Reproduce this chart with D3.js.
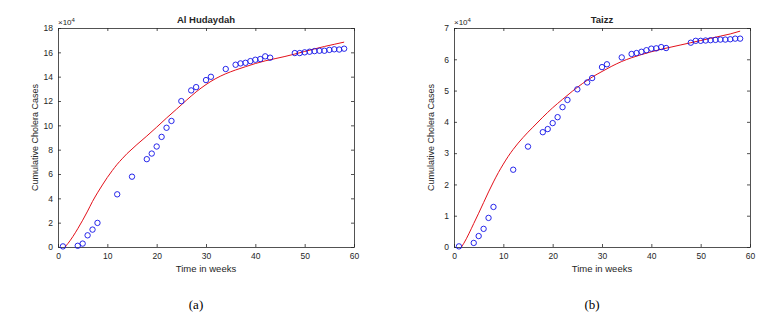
<!DOCTYPE html>
<html lang="en">
<head>
<meta charset="utf-8">
<title>Cumulative cholera cases</title>
<script src="https://d3js.org/d3.v7.min.js"></script>
<style>
  body { margin: 0; background: #fff; }
  svg text { font-family: "Liberation Sans", Arial, Helvetica, sans-serif; fill: #262626; }
  .tag { font-family: "Liberation Serif", "Times New Roman", serif; fill: #000; }
</style>
</head>
<body>
<div id="chart"></div>
<script>

// observed weeks (same for both governorates)
var weeks = [1,4,5,6,7,8,12,15,18,19,20,21,22,23,25,27,28,30,31,34,36,37,38,39,40,41,42,43,48,49,50,51,52,53,54,55,56,57,58];

// observed cumulative cases, in units of 10^4
var hudaydahCases = [0.05,0.1,0.28,0.96,1.43,1.98,4.33,5.78,7.22,7.68,8.26,9.05,9.8,10.36,11.99,12.87,13.14,13.72,13.99,14.63,14.98,15.09,15.14,15.28,15.39,15.45,15.67,15.56,15.94,15.94,16.0,16.05,16.1,16.13,16.13,16.2,16.25,16.23,16.3];
var taizzCases = [0.02,0.13,0.35,0.58,0.93,1.28,2.47,3.21,3.67,3.77,3.96,4.15,4.47,4.7,5.04,5.26,5.4,5.75,5.84,6.06,6.17,6.2,6.24,6.29,6.34,6.35,6.39,6.36,6.53,6.59,6.59,6.6,6.61,6.62,6.63,6.63,6.64,6.66,6.66];

// model fit (red curve)
var hudaydahFitWeeks = [1.4,2,3,4,5,6,7,8,9,10,11,12,13,14,15,16,18,20,22,24,26,28,30,32,34,36,38,40,42,44,46,48,50,52,54,56,58];
var hudaydahFit = [0,0.28,0.85,1.5,2.2,2.95,3.75,4.45,5.1,5.72,6.28,6.8,7.25,7.68,8.05,8.42,9.12,9.85,10.6,11.32,12.05,12.75,13.35,13.85,14.24,14.55,14.82,15.08,15.3,15.48,15.66,15.86,16.07,16.28,16.48,16.66,16.84];
var taizzFitWeeks = [1.5,2,3,4,5,6,7,8,9,10,11,12,13,14,15,16,18,20,22,24,26,28,30,32,34,36,38,40,42,44,46,48,50,52,54,56,58];
var taizzFit = [0,0.12,0.42,0.75,1.08,1.42,1.76,2.08,2.38,2.65,2.9,3.12,3.32,3.5,3.67,3.83,4.15,4.45,4.72,4.98,5.22,5.43,5.61,5.78,5.93,6.05,6.15,6.24,6.32,6.39,6.46,6.53,6.6,6.67,6.74,6.81,6.9];

var xTicks = [0,10,20,30,40,50,60];
var hudaydahTicks = [0,2,4,6,8,10,12,14,16,18];
var taizzTicks = [0,1,2,3,4,5,6,7];

var panels = [
  {title: "Al Hudaydah", tag: "(a)", cases: hudaydahCases, fitW: hudaydahFitWeeks, fit: hudaydahFit, yTicks: hudaydahTicks},
  {title: "Taizz", tag: "(b)", cases: taizzCases, fitW: taizzFitWeeks, fit: taizzFit, yTicks: taizzTicks}
];

var W = 776, H = 312;
var pw = 296, ph = 219, marginTop = 28;
var lefts = [58, 454];

var svg = d3.select("#chart").append("svg")
  .attr("width", W).attr("height", H);

panels.forEach(function(p, i) {
  var g = svg.append("g").attr("transform", "translate(" + lefts[i] + "," + marginTop + ")");

  var x = d3.scaleLinear().domain([0, 60]).range([0, pw]);
  var yMax = p.yTicks[p.yTicks.length - 1];
  var y = d3.scaleLinear().domain([0, yMax]).range([ph, 0]);

  // axes, ticks pointing inward on all four sides
  var bottom = g.append("g").attr("transform", "translate(0," + ph + ")")
    .call(d3.axisBottom(x).tickValues(xTicks).tickFormat(d3.format("d"))
      .tickSizeInner(-3).tickSizeOuter(0).tickPadding(6));
  var topAx = g.append("g")
    .call(d3.axisTop(x).tickValues(xTicks).tickSizeInner(-3).tickSizeOuter(0).tickFormat(""));
  var leftAx = g.append("g")
    .call(d3.axisLeft(y).tickValues(p.yTicks).tickFormat(d3.format("d"))
      .tickSizeInner(-3).tickSizeOuter(0).tickPadding(5));
  var rightAx = g.append("g").attr("transform", "translate(" + pw + ",0)")
    .call(d3.axisRight(y).tickValues(p.yTicks).tickSizeInner(-3).tickSizeOuter(0).tickFormat(""));

  [bottom, topAx, leftAx, rightAx].forEach(function(a) {
    a.selectAll("path, line").attr("stroke", "#262626").attr("stroke-width", 0.8);
    a.selectAll("text").style("font-size", "8.5px").attr("fill", "#262626")
      .style("font-family", "'Liberation Sans', Arial, sans-serif");
  });

  // exponent label
  var ex = g.append("text").attr("x", 0).attr("y", -3).style("font-size", "8px");
  ex.append("tspan").text("\u00d710");
  ex.append("tspan").attr("dy", -3).style("font-size", "6px").text("4");

  // title
  g.append("text").attr("x", pw / 2).attr("y", -5)
    .attr("text-anchor", "middle").style("font-size", "9.5px").style("font-weight", "bold")
    .attr("fill", "#000").text(p.title);

  // axis labels
  g.append("text").attr("x", pw / 2).attr("y", ph + 25)
    .attr("text-anchor", "middle").style("font-size", "9.5px").text("Time in weeks");
  g.append("text")
    .attr("transform", "translate(-20," + (ph / 2) + ") rotate(-90)")
    .attr("text-anchor", "middle").style("font-size", "9px").text("Cumulative Cholera Cases");

  // fitted curve
  var line = d3.line()
    .x(function(d) { return x(d[0]); })
    .y(function(d) { return y(d[1]); })
    .curve(d3.curveMonotoneX);
  g.append("path")
    .datum(p.fitW.map(function(w, k) { return [w, p.fit[k]]; }))
    .attr("d", line)
    .attr("fill", "none").attr("stroke", "#e3101a").attr("stroke-width", 1);

  // observed points
  g.append("g").selectAll("circle")
    .data(weeks.map(function(w, k) { return [w, p.cases[k]]; }))
    .enter().append("circle")
      .attr("cx", function(d) { return x(d[0]); })
      .attr("cy", function(d) { return y(d[1]); })
      .attr("r", 2.7)
      .attr("fill", "none").attr("stroke", "#1010e8").attr("stroke-width", 0.9);

  // sub-figure tag
  svg.append("text").attr("class", "tag")
    .attr("x", lefts[i] + pw / 2 - 10).attr("y", 309)
    .attr("text-anchor", "middle").style("font-size", "13px").text(p.tag);
});

</script>
</body>
</html>
